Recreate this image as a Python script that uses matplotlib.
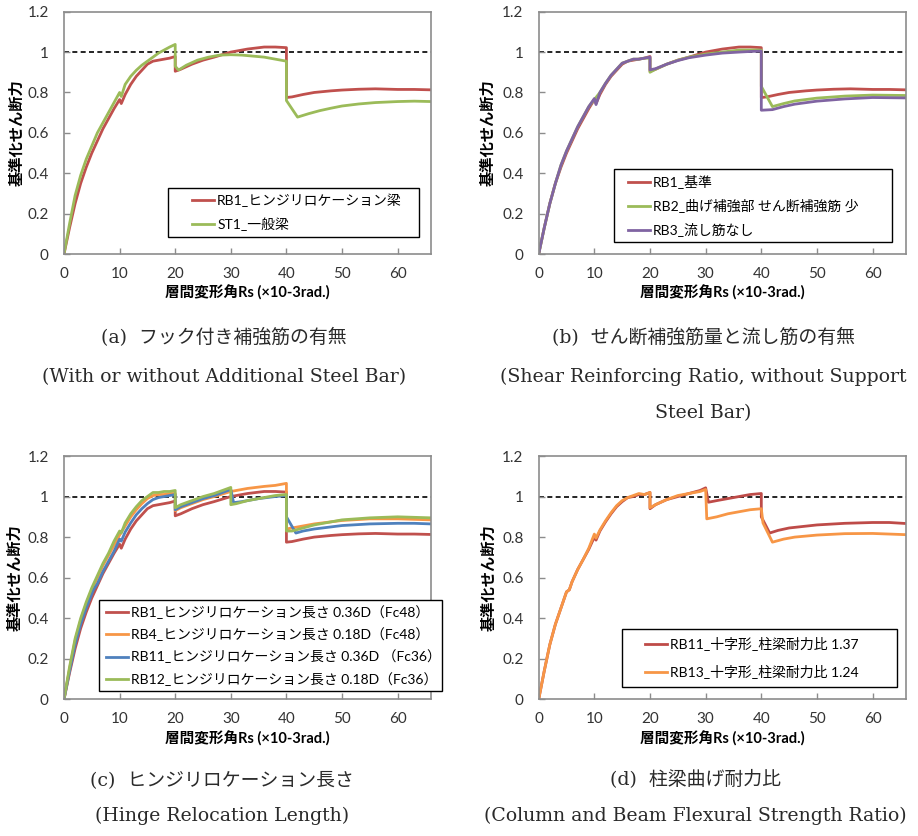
import matplotlib
matplotlib.use('Agg')
import matplotlib.pyplot as plt
from matplotlib.font_manager import FontProperties
from matplotlib.patches import Rectangle

# フォント設定
JP_SANS = ['Lato', 'Noto Sans CJK JP', 'DejaVu Sans']
JP_SERIF = ['DejaVu Serif', 'Noto Sans CJK JP']
plt.rcParams['font.family'] = JP_SANS

# 色 (Excel既定色)
C_RED = '#C0504D'
C_GREEN = '#9BBB59'
C_PURPLE = '#8064A2'
C_BLUE = '#4F81BD'
C_ORANGE = '#F79646'
C_DRED = '#BE4B48'

# ---- データ ----
# RB1 (a, b, c 共通)
rb1_x = [0, 1, 2, 3, 4, 5, 6, 7, 8, 9, 10, 10.3, 11, 12, 13, 14, 15, 16, 17, 18, 19, 20, 20,
         21, 23, 25, 27, 30, 33, 36, 38, 40, 40, 41, 43, 45, 48, 50, 53, 56, 60, 63, 66]
rb1_y = [0, 0.13, 0.25, 0.35, 0.43, 0.50, 0.56, 0.62, 0.67, 0.72, 0.765, 0.745, 0.79, 0.84, 0.88,
         0.91, 0.94, 0.955, 0.96, 0.965, 0.97, 0.978, 0.905, 0.915, 0.94, 0.96, 0.975, 1.0, 1.015,
         1.025, 1.025, 1.022, 0.775, 0.778, 0.79, 0.80, 0.808, 0.812, 0.816, 0.818, 0.815, 0.815, 0.813]

# ST1 一般梁 (a)
st1_x = [0, 1, 2, 3, 4, 5, 6, 7, 8, 9, 10, 10.3, 11, 12, 13, 14, 15, 16, 17, 18, 19, 20, 20,
         20.6, 22, 24, 26, 28, 30, 32, 34, 36, 38, 40, 40, 42, 44, 46, 48, 50, 53, 56, 60, 63, 66]
st1_y = [0, 0.15, 0.29, 0.39, 0.47, 0.535, 0.6, 0.65, 0.70, 0.75, 0.80, 0.78, 0.84, 0.88, 0.91,
         0.935, 0.955, 0.975, 0.995, 1.01, 1.025, 1.038, 0.93, 0.911, 0.935, 0.96, 0.975, 0.985,
         0.987, 0.985, 0.98, 0.975, 0.965, 0.955, 0.76, 0.678, 0.695, 0.71, 0.722, 0.733, 0.743,
         0.75, 0.755, 0.757, 0.755]

# RB2, RB3 (b)
rb2_x = [0, 1, 2, 3, 4, 5, 6, 7, 8, 9, 10, 11, 12, 13, 14, 15, 16, 17, 18, 19, 20, 20, 21, 23,
         25, 27, 30, 33, 36, 38, 40, 40, 42, 44, 46, 50, 55, 60, 66]
rb2_y = [0, 0.13, 0.25, 0.35, 0.44, 0.51, 0.57, 0.63, 0.68, 0.73, 0.765, 0.8, 0.845, 0.885, 0.915,
         0.945, 0.955, 0.965, 0.965, 0.97, 0.97, 0.9, 0.915, 0.94, 0.96, 0.975, 0.99, 1.0, 1.01,
         1.01, 1.01, 0.83, 0.73, 0.745, 0.758, 0.772, 0.782, 0.787, 0.785]
rb3_x = [0, 1, 2, 3, 4, 5, 6, 7, 8, 9, 10, 10.3, 11, 12, 13, 14, 15, 16, 17, 18, 19, 20, 20, 21,
         23, 25, 27, 30, 33, 36, 38, 40, 40, 42, 44, 46, 50, 55, 60, 66]
rb3_y = [0, 0.13, 0.25, 0.35, 0.44, 0.51, 0.57, 0.63, 0.68, 0.73, 0.77, 0.74, 0.8, 0.845, 0.885,
         0.915, 0.945, 0.955, 0.965, 0.965, 0.97, 0.975, 0.912, 0.918, 0.94, 0.958, 0.972, 0.985,
         0.995, 1.0, 1.003, 1.005, 0.712, 0.715, 0.73, 0.742, 0.757, 0.768, 0.775, 0.773]

# RB4, RB11, RB12 (c)
rb4_x = [0, 1, 2, 3, 4, 5, 6, 7, 8, 9, 10, 11, 12, 13, 14, 15, 16, 17, 18, 19, 20, 20, 21, 23,
         25, 27, 30, 33, 36, 38, 40, 40, 42, 45, 50, 55, 60, 66]
rb4_y = [0, 0.15, 0.29, 0.39, 0.47, 0.54, 0.6, 0.66, 0.71, 0.76, 0.81, 0.855, 0.9, 0.935, 0.965,
         0.99, 1.005, 1.01, 1.01, 1.015, 1.015, 0.93, 0.945, 0.965, 0.985, 1.0, 1.025, 1.04, 1.05,
         1.055, 1.065, 0.84, 0.85, 0.865, 0.882, 0.89, 0.89, 0.885]
rb11_x = [0, 1, 2, 3, 4, 5, 5.3, 6, 7, 8, 9, 10, 10.3, 11, 12, 13, 14, 15, 16, 17, 18, 19, 20, 20,
          21, 23, 25, 27, 29, 30, 30.5, 32, 35, 38, 40, 40, 41.7, 43, 45, 50, 55, 60, 63, 66]
rb11_y = [0, 0.14, 0.27, 0.37, 0.45, 0.52, 0.54, 0.57, 0.63, 0.68, 0.73, 0.79, 0.78, 0.825, 0.87,
          0.91, 0.94, 0.965, 0.985, 0.995, 1.0, 1.005, 1.01, 0.935, 0.95, 0.97, 0.99, 1.005, 1.025,
          1.035, 0.97, 0.975, 0.99, 1.0, 1.005, 0.9, 0.82, 0.83, 0.84, 0.857, 0.865, 0.868, 0.868, 0.865]
rb12_x = [0, 1, 2, 3, 4, 5, 6, 7, 8, 9, 10, 10.3, 11, 12, 13, 14, 15, 16, 17, 18, 19, 20, 20, 21,
          23, 25, 27, 30, 30, 31, 33, 35, 38, 40, 40, 41, 43, 45, 50, 55, 60, 66]
rb12_y = [0, 0.16, 0.3, 0.4, 0.48, 0.55, 0.61, 0.67, 0.72, 0.78, 0.83, 0.82, 0.87, 0.915, 0.95,
          0.98, 1.0, 1.02, 1.02, 1.025, 1.025, 1.03, 0.945, 0.96, 0.98, 1.0, 1.015, 1.045, 0.96,
          0.965, 0.98, 0.99, 1.005, 1.01, 0.83, 0.83, 0.845, 0.86, 0.885, 0.895, 0.9, 0.895]

# RB11, RB13 十字形 (d)
rb11d_x = [0, 1, 2, 3, 4, 5, 5.5, 6, 7, 8, 9, 10, 10.3, 11, 12, 13, 14, 15, 16, 17, 18, 19, 20, 20,
           21, 23, 25, 27, 29, 30, 30.5, 32, 35, 38, 40, 40, 41.5, 43, 45, 50, 55, 60, 63, 66]
rb11d_y = [0, 0.14, 0.27, 0.37, 0.45, 0.53, 0.54, 0.58, 0.64, 0.69, 0.74, 0.80, 0.785, 0.83, 0.875,
           0.915, 0.95, 0.975, 0.995, 1.0, 1.01, 1.01, 1.02, 0.94, 0.96, 0.985, 1.0, 1.015, 1.03,
           1.043, 0.972, 0.98, 0.995, 1.01, 1.015, 0.9, 0.82, 0.833, 0.845, 0.86, 0.868, 0.872,
           0.872, 0.867]
rb13_x = [0, 1, 2, 3, 4, 5, 5.5, 6, 7, 8, 9, 10, 10.3, 11, 12, 13, 14, 15, 16, 17, 18, 19, 20, 20,
          21, 23, 25, 27, 29, 30, 30.2, 32, 34, 36, 38, 40, 40.3, 42, 44, 46, 50, 55, 60, 66]
rb13_y = [0, 0.14, 0.27, 0.37, 0.45, 0.53, 0.54, 0.58, 0.64, 0.69, 0.745, 0.815, 0.795, 0.835,
          0.88, 0.92, 0.955, 0.98, 0.995, 1.005, 1.015, 1.01, 1.02, 0.945, 0.96, 0.985, 1.005,
          1.015, 1.025, 1.035, 0.89, 0.9, 0.915, 0.925, 0.935, 0.94, 0.87, 0.775, 0.79, 0.8, 0.81,
          0.817, 0.818, 0.812]

# 軸目盛
x_ticks = [0, 10, 20, 30, 40, 50, 60]
y_ticks = [0, 0.2, 0.4, 0.6, 0.8, 1, 1.2]
y_ticklabels = ['0', '0.2', '0.4', '0.6', '0.8', '1', '1.2']

# ラベル
xlabel = '層間変形角Rs (×10-3rad.)'
ylabel = '基準化せん断力'

cap_a = ['(a)  フック付き補強筋の有無', '(With or without Additional Steel Bar)']
cap_b = ['(b)  せん断補強筋量と流し筋の有無', '(Shear Reinforcing Ratio, without Support', 'Steel Bar)']
cap_c = ['(c)  ヒンジリロケーション長さ', '(Hinge Relocation Length)']
cap_d = ['(d)  柱梁曲げ耐力比', '(Column and Beam Flexural Strength Ratio)']

W, H = 918, 836
fig = plt.figure(figsize=(W / 100, H / 100), dpi=100)


def make_axes(left, top, right, bottom, ylab_x):
    # ピクセル座標で軸を配置
    ax = fig.add_axes([left / W, 1 - bottom / H, (right - left) / W, (bottom - top) / H])
    ax.set_xlim(0, 66)
    ax.set_ylim(0, 1.2)
    ax.set_xticks(x_ticks)
    ax.set_yticks(y_ticks)
    ax.set_yticklabels(y_ticklabels)
    for s in ax.spines.values():
        s.set_color('#8C8C8C')
        s.set_linewidth(1.2)
    ax.tick_params(direction='in', length=4, width=1, color='#8C8C8C',
                   labelsize=11, labelcolor='#333333')
    ax.tick_params(axis='y', pad=11)
    ax.tick_params(axis='x', pad=9)
    ax.axhline(1.0, color='black', linestyle=(0, (3, 2)), linewidth=1.2, zorder=1)
    ax.set_xlabel(xlabel, fontsize=10.5, fontweight='bold', family=JP_SANS)
    ax.xaxis.set_label_coords(0.5, -0.13)
    ax.set_ylabel(ylabel, fontsize=11, fontweight='bold', family=JP_SANS)
    ax.yaxis.set_label_coords(ylab_x, 0.5)
    return ax


def legend(ax, box, handle_x, spacing):
    # 凡例枠 (Excel風: 左右に余白のある枠)
    x0, y0, x1, y1 = box
    ax.add_patch(Rectangle((x0, y0), x1 - x0, y1 - y0, transform=ax.transAxes,
                           facecolor='white', edgecolor='black', linewidth=1.0,
                           clip_on=False, zorder=4))
    leg = ax.legend(loc='center left', bbox_to_anchor=(handle_x, (y0 + y1) / 2),
                    borderaxespad=0, borderpad=0, frameon=False,
                    prop=FontProperties(family=JP_SANS, size=10),
                    handlelength=1.6, handletextpad=0.2, labelspacing=spacing)
    leg.set_zorder(5)
    return leg


def caption(x, ys, lines):
    for y, t in zip(ys, lines):
        fig.text(x / W, 1 - y / H, t, ha='center', va='center', fontsize=13.6,
                 family=JP_SERIF, color='#2a2a2a')


LW = 2.0

# (a)
ax = make_axes(64, 11.7, 431, 254, -0.107)
ax.plot(rb1_x, rb1_y, color=C_RED, lw=LW, label='RB1_ヒンジリロケーション梁')
ax.plot(st1_x, st1_y, color=C_GREEN, lw=LW, label='ST1_一般梁')
legend(ax, (0.283, 0.070, 0.967, 0.272), 0.349, 0.75)

# (b)
ax = make_axes(538.7, 11.7, 906, 254, -0.117)
ax.plot(rb1_x, rb1_y, color=C_RED, lw=LW, label='RB1_基準')
ax.plot(rb2_x, rb2_y, color=C_GREEN, lw=LW, label='RB2_曲げ補強部 せん断補強筋 少')
ax.plot(rb3_x, rb3_y, color=C_PURPLE, lw=LW, label='RB3_流し筋なし')
legend(ax, (0.205, 0.050, 0.963, 0.351), 0.243, 0.72)

# (c)
ax = make_axes(64, 456, 431, 699.3, -0.112)
ax.plot(rb1_x, rb1_y, color=C_RED, lw=LW, label='RB1_ヒンジリロケーション長さ 0.36D（Fc48）')
ax.plot(rb4_x, rb4_y, color=C_ORANGE, lw=LW, label='RB4_ヒンジリロケーション長さ 0.18D（Fc48）')
ax.plot(rb11_x, rb11_y, color=C_BLUE, lw=LW, label='RB11_ヒンジリロケーション長さ 0.36D （Fc36）')
ax.plot(rb12_x, rb12_y, color=C_GREEN, lw=LW, label='RB12_ヒンジリロケーション長さ 0.18D（Fc36）')
legend(ax, (0.095, 0.035, 1.030, 0.408), 0.114, 0.6)

# (d)
ax = make_axes(538.7, 456, 906, 699.3, -0.114)
ax.plot(rb11d_x, rb11d_y, color=C_DRED, lw=LW, label='RB11_十字形_柱梁耐力比 1.37')
ax.plot(rb13_x, rb13_y, color=C_ORANGE, lw=LW, label='RB13_十字形_柱梁耐力比 1.24')
legend(ax, (0.227, 0.051, 0.976, 0.289), 0.29, 1.04)

# キャプション
caption(224, [338, 377], cap_a)
caption(703, [338, 377, 413], cap_b)
caption(222, [780, 816], cap_c)
caption(695, [780, 816], cap_d)

fig.savefig('out.png', dpi=100)
